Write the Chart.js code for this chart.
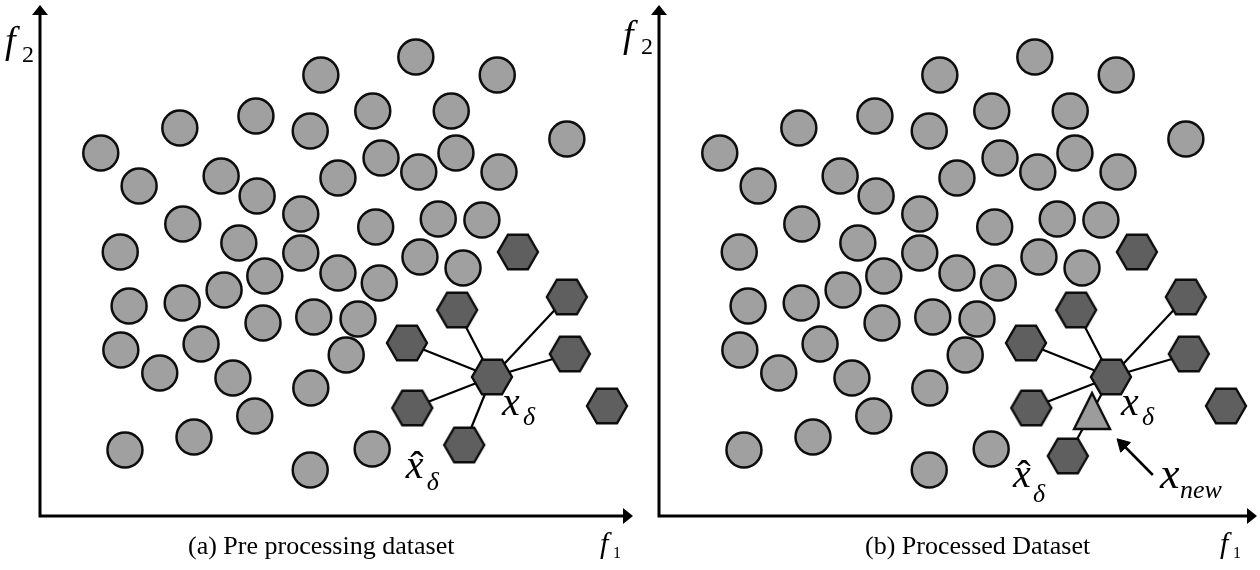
<!DOCTYPE html>
<html><head><meta charset="utf-8">
<script src="https://cdn.jsdelivr.net/npm/chart.js@4.4.1/dist/chart.umd.min.js"></script>
<style>
html,body{margin:0;padding:0;background:#fff;width:1260px;height:570px;overflow:hidden;}
#c1{position:absolute;left:0;top:0;}
#c2{position:absolute;left:619px;top:0;}
</style></head><body>
<canvas id="c1" width="640" height="570"></canvas>
<canvas id="c2" width="641" height="570"></canvas>
<script>
// Majority class samples (f1, f2) on a 0-100 scale
const majorityX = [47.6,63.7,77.5,36.6,56.4,69.7,23.7,45.8,89.3,10.3,57.8,70.5,16.8,30.7,36.8,50.5,64.2,77.8,24.2,44.2,56.9,67.5,74.9,13.6,33.7,44.2,64.4,71.7,38.1,50.5,57.5,15.1,24.1,31.2,37.8,46.4,53.9,13.7,27.3,20.3,32.7,51.9,45.9,36.4,14.4,26.1,56.3,45.8];
const majorityY = [88.2,91.8,88.2,80.0,81.0,81.0,77.6,77.0,75.4,72.6,71.6,72.6,66.0,68.0,64.0,67.6,68.8,68.8,58.4,60.4,57.8,59.4,59.2,52.8,54.6,52.6,51.8,49.6,48.0,48.6,46.6,42.0,42.6,45.2,38.6,39.8,39.4,33.2,34.4,28.6,27.6,32.2,25.6,20.0,13.2,15.8,13.4,9.2];
// Minority class samples
const minorityX = [81.0,70.7,62.2,89.3,89.8,63.1,96.1];
const minorityY = [52.8,41.2,34.6,43.8,32.4,21.6,22.0];
// indices of minority samples that are neighbours of the seed
const neighbourIdx = [1,2,3,4,5];
// seed sample x_delta
const seedX = [76.6];
const seedY = [27.8];
// selected neighbour x-hat: [pre processing, processed]
const xHatX = [71.9, 69.3];
const xHatY = [14.2, 12.0];
// synthetic sample x_new (processed panel)
const syntheticX = [73.4];
const syntheticY = [21.0];
// arrow pointing to x_new: [tail, head]
const arrowX = [83.7, 78.6];
const arrowY = [8.2, 14.3];

const SERIF = '"Liberation Serif", "Times New Roman", serif';

function makeHex() {
  const c = document.createElement('canvas');
  c.width = 46; c.height = 42;
  const g = c.getContext('2d');
  g.beginPath();
  for (let i = 0; i < 6; i++) {
    const a = Math.PI / 3 * i;
    const px = 23 + 20 * Math.cos(a), py = 21 + 20 * Math.sin(a);
    if (i === 0) g.moveTo(px, py); else g.lineTo(px, py);
  }
  g.closePath();
  g.fillStyle = '#5f5f5f'; g.fill();
  g.lineWidth = 2.4; g.strokeStyle = '#0d0d0d'; g.lineJoin = 'miter'; g.stroke();
  return c;
}
function makeTri() {
  const c = document.createElement('canvas');
  c.width = 42; c.height = 42;
  const g = c.getContext('2d');
  g.beginPath();
  g.moveTo(21, 3); g.lineTo(39, 39); g.lineTo(3, 39); g.closePath();
  g.fillStyle = '#9c9c9c'; g.fill();
  g.lineWidth = 2.4; g.strokeStyle = '#0d0d0d'; g.stroke();
  return c;
}
const HEX = makeHex();
const TRI = makeTri();

const pts = (xs, ys) => xs.map((x, i) => ({x, y: ys[i]}));

function buildDatasets(p) {
  const ds = [];
  const seed = {x: seedX[0], y: seedY[0]};
  const hat = {x: xHatX[p], y: xHatY[p]};
  if (p === 1) {
    ds.push({ data: pts(syntheticX, syntheticY), pointStyle: TRI, pointRadius: 20, order: 0, clip: false });
    ds.push({ data: pts(arrowX, arrowY), showLine: true, borderColor: '#000', borderWidth: 2.5,
      pointStyle: 'triangle', pointRadius: [0, 8], pointRotation: -45,
      pointBackgroundColor: '#000', pointBorderColor: '#000', pointBorderWidth: 1, order: 0, clip: false });
  }
  ds.push({ data: pts(majorityX, majorityY), pointStyle: 'circle', pointRadius: 17.5,
    pointBackgroundColor: '#a0a0a0', pointBorderColor: '#0d0d0d', pointBorderWidth: 2.5, order: 1, clip: false });
  ds.push({ data: pts(minorityX, minorityY).concat([seed, hat]), pointStyle: HEX, pointRadius: 20, order: 1, clip: false });
  neighbourIdx.concat([-1]).forEach(i => {
    const nb = i < 0 ? hat : {x: minorityX[i], y: minorityY[i]};
    ds.push({ data: [seed, nb], showLine: true, borderColor: '#000', borderWidth: 2.2, pointRadius: 0, order: 3, clip: false });
  });
  return ds;
}

const diagramPlugin = {
  id: 'diagram',
  beforeDatasetsDraw(chart, args, o) {
    const ctx = chart.ctx, a = chart.chartArea;
    ctx.save();
    ctx.strokeStyle = '#000'; ctx.fillStyle = '#000'; ctx.lineWidth = 3;
    ctx.beginPath();
    ctx.moveTo(a.left, a.bottom + 1.5); ctx.lineTo(a.left, 14);
    ctx.moveTo(a.left - 1.5, a.bottom); ctx.lineTo(o.xTip - 9, a.bottom);
    ctx.stroke();
    ctx.beginPath();
    ctx.moveTo(a.left, 5); ctx.lineTo(a.left - 8, 15); ctx.lineTo(a.left + 8, 15); ctx.closePath();
    ctx.moveTo(o.xTip, a.bottom); ctx.lineTo(o.xTip - 10, a.bottom - 8); ctx.lineTo(o.xTip - 10, a.bottom + 8); ctx.closePath();
    ctx.fill();
    ctx.restore();
  },
  afterDatasetsDraw(chart, args, o) {
    const ctx = chart.ctx, xs = chart.scales.x, ys = chart.scales.y;
    ctx.save();
    ctx.fillStyle = '#000'; ctx.textBaseline = 'alphabetic'; ctx.textAlign = 'left';
    const txt = (t, x, y, font) => { ctx.font = font; ctx.fillText(t, x, y); };
    o.axisLabels.forEach(l => {
      txt('f', l.x, l.y, `italic ${l.size}px ${SERIF}`);
      txt(l.sub, l.sx, l.sy, `${l.subSize}px ${SERIF}`);
    });
    o.mathLabels.forEach(l => {
      const x = xs.getPixelForValue(l.x), y = ys.getPixelForValue(l.y);
      txt('x', x, y, `italic ${l.size}px ${SERIF}`);
      if (l.hat) {
        ctx.textAlign = 'center';
        txt('\u02C6', x + 11, y + 1, `${l.size}px ${SERIF}`);
        ctx.textAlign = 'left';
      }
      txt(l.sub, x + l.dx, y + l.dy, `italic ${l.subSize}px ${SERIF}`);
    });
    txt(o.caption, o.capX, 554, `26px ${SERIF}`);
    ctx.restore();
  }
};

function makeChart(id, p) {
  const isB = p === 1;
  const mathLabels = [
    {x: 78.3, y: 20.2, size: 40, sub: '\u03B4', subSize: 26, dx: 21, dy: 10},
    isB ? {x: 60.0, y: 5.8, size: 40, sub: '\u03B4', subSize: 26, dx: 20, dy: 15, hat: true}
        : {x: 62.0, y: 7.6, size: 40, sub: '\u03B4', subSize: 26, dx: 21, dy: 12, hat: true}
  ];
  if (isB) mathLabels.push({x: 84.9, y: 5.6, size: 44, sub: 'new', subSize: 26, dx: 20, dy: 10});
  const axisLabels = isB
    ? [{x: 4, y: 47, size: 38, sub: '2', sx: 22, sy: 54, subSize: 24},
       {x: 601, y: 553, size: 30, sub: '1', sx: 614, sy: 558, subSize: 16}]
    : [{x: 5, y: 53, size: 38, sub: '2', sx: 22, sy: 62, subSize: 24},
       {x: 600, y: 553, size: 30, sub: '1', sx: 613, sy: 558, subSize: 16}];
  return new Chart(document.getElementById(id), {
    type: 'scatter',
    data: { datasets: buildDatasets(p) },
    options: {
      responsive: false, devicePixelRatio: 1, animation: false, events: [],
      layout: { autoPadding: false, padding: { left: 40, top: 16, right: isB ? 11 : 10, bottom: 54 } },
      scales: {
        x: { type: 'linear', min: 0, max: 100, display: false },
        y: { type: 'linear', min: 0, max: 100, display: false }
      },
      plugins: {
        legend: { display: false }, tooltip: { enabled: false },
        diagram: {
          xTip: isB ? 638 : 633,
          caption: isB ? '(b) Processed Dataset' : '(a) Pre processing dataset',
          capX: isB ? 246 : 188,
          mathLabels, axisLabels
        }
      }
    },
    plugins: [diagramPlugin]
  });
}
makeChart('c1', 0);
makeChart('c2', 1);
</script>
</body></html>
